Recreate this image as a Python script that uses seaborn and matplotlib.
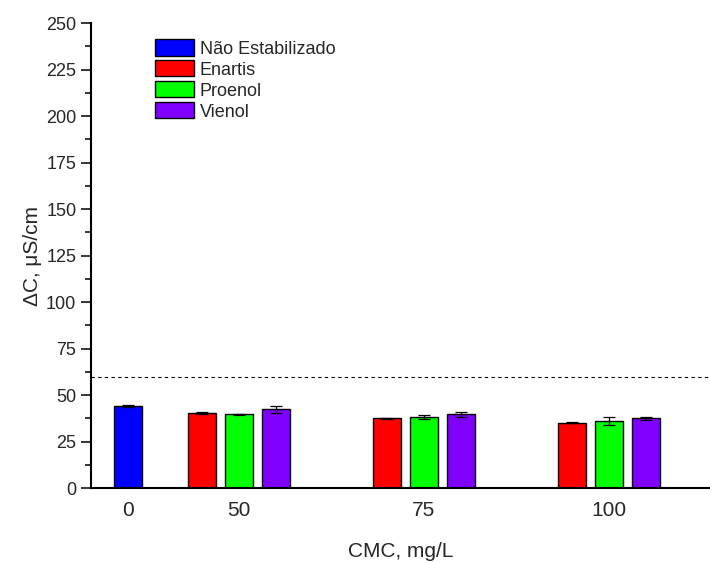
import matplotlib
matplotlib.use("Agg")
import matplotlib.pyplot as plt
import pandas as pd
import seaborn as sns

# CMC dose (mg/L) and series
doses = ["0", "50", "75", "100"]
series = ["Não Estabilizado", "Enartis", "Proenol", "Vienol"]
colors = ["#0000ff", "#ff0000", "#00ff00", "#7f00ff"]

nao_estab = [44.2]
nao_estab_err = [0.6]
enartis = [40.5, 37.5, 35.1]
enartis_err = [0.5, 0.4, 0.3]
proenol = [39.6, 38.0, 36.2]
proenol_err = [0.5, 1.1, 2.0]
vienol = [42.3, 39.6, 37.5]
vienol_err = [1.8, 1.4, 0.9]

threshold = 60

# slot layout: control at 0, then groups of three bars centred every 5 slots
rows = [{"pos": 0, "value": nao_estab[0], "err": nao_estab_err[0], "series": series[0]}]
group_centers = [0]
for i in range(len(doses) - 1):
    c = 3 + 5 * i
    group_centers.append(c)
    for k, (vals, errs) in enumerate([(enartis, enartis_err), (proenol, proenol_err), (vienol, vienol_err)]):
        rows.append({"pos": c - 1 + k, "value": vals[i], "err": errs[i], "series": series[k + 1]})
df = pd.DataFrame(rows)

sns.set_style("ticks")
plt.rcParams["font.family"] = ["Liberation Sans", "DejaVu Sans"]

fig = plt.figure(figsize=(7.1, 5.63), dpi=100)
ax = fig.add_axes([0.128, 0.133, 0.872, 0.826])

sns.barplot(
    data=df, x="pos", y="value", hue="series", hue_order=series,
    palette=colors, saturation=1, native_scale=True, dodge=False, width=0.77,
    errorbar=None, edgecolor="black", linewidth=1, ax=ax,
)
ax.errorbar(df["pos"], df["value"], yerr=df["err"], fmt="none",
            ecolor="black", elinewidth=0.9, capsize=4, capthick=0.9)

ax.axhline(threshold, color="black", linewidth=0.8, linestyle=(0, (3, 3)))

ax.set_xlim(-1, 15.73)
ax.set_ylim(0, 250)
ax.set_xticks(group_centers)
ax.set_xticklabels(doses, fontsize=15)
ax.tick_params(axis="x", length=0, pad=9)
ax.set_yticks(range(0, 251, 25))
ax.set_yticks([12.5 + 25 * i for i in range(10)], minor=True)
ax.tick_params(axis="y", which="major", length=7, width=1.3, labelsize=13, direction="out")
ax.tick_params(axis="y", which="minor", length=4, width=1.3, direction="out")

for side in ["top", "right"]:
    ax.spines[side].set_visible(False)
for side in ["left", "bottom"]:
    ax.spines[side].set_linewidth(1.5)
    ax.spines[side].set_color("black")

ax.set_xlabel("CMC, mg/L", fontsize=15, labelpad=16)
ax.set_ylabel("ΔC, μS/cm", fontsize=15, labelpad=3)

handles, labels = ax.get_legend_handles_labels()
ax.legend(handles, labels, loc="upper left", bbox_to_anchor=(0.103, 0.965),
          frameon=False, fontsize=13, borderpad=0, borderaxespad=0,
          handlelength=2.2, handleheight=1.0, labelspacing=0.15, handletextpad=0.3)

fig.savefig("out.png", dpi=100)
